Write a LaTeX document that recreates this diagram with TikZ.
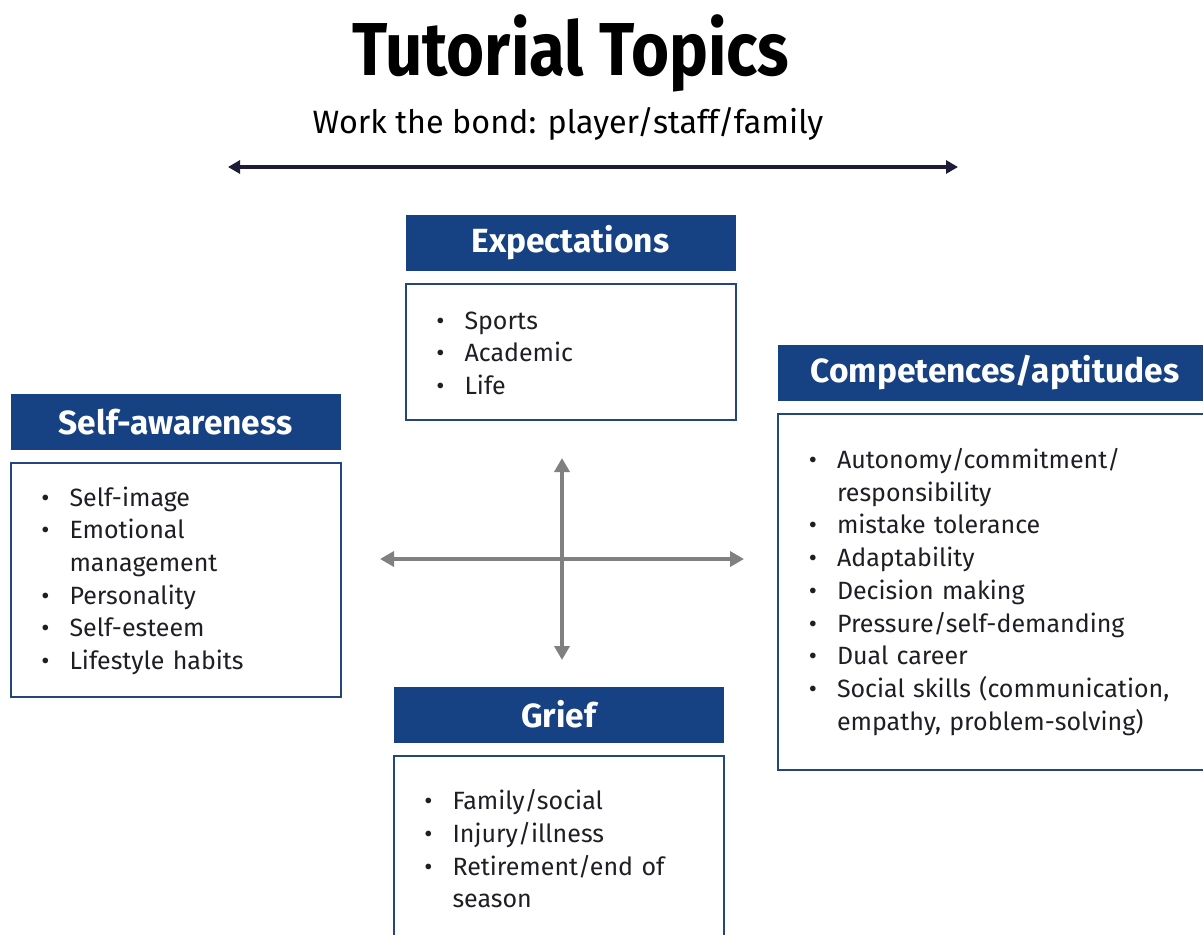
\documentclass[tikz,border=0pt]{standalone}
\usepackage{fontspec}
\setmainfont{Fira Sans}
\newfontfamily\titlefont[FakeStretch=0.87]{Fira Sans}
\usepackage{enumitem}
\usetikzlibrary{positioning, arrows.meta}
\definecolor{navy}{RGB}{22,65,130}
\definecolor{boxline}{RGB}{36,70,126}
\definecolor{inkdark}{RGB}{30,30,36}
\definecolor{crossgray}{RGB}{128,128,128}
\definecolor{bondline}{RGB}{28,28,56}
\newcommand{\toplist}[1]{\begin{itemize}[label=\textbullet, leftmargin=26pt, labelsep=20pt, nosep]#1\end{itemize}\vspace*{12pt}}
\tikzset{
	headbox/.style={fill=navy, text=white, font=\fontsize{33.5}{38}\selectfont\bfseries, minimum width=330pt, minimum height=56pt, inner sep=0pt},
	listbox/.style={draw=boxline, line width=2pt, text=inkdark, font=\fontsize{25}{32.7}\selectfont, inner xsep=33pt, inner ysep=0pt, text width=264pt, align=left},
	crossarrow/.style={crossgray, line width=3.5pt, {Triangle[length=14pt, width=15pt]}-{Triangle[length=14pt, width=15pt]}},
}

\begin{document}
\begin{tikzpicture}[x=1pt, y=-1pt]
	\useasboundingbox (0,0) rectangle (1203,935);
	\clip (0,0) rectangle (1203,935);
	% title and the bond line
	\node[anchor=base, font=\titlefont\bfseries\fontsize{75}{80}\selectfont] (title) at (571,75) {Tutorial Topics};
	\node[anchor=base, font=\fontsize{32.3}{38}\selectfont, text=black] (bond) at (568,133) {Work the bond: player/staff/family};
	\coordinate (bondL) at (228,167);
	\coordinate (bondR) at (958,167);
	\draw[bondline, line width=4pt, {Triangle[length=12pt, width=13pt]}-{Triangle[length=12pt, width=13pt]}] (bondL) -- (bondR);
	% Expectations
	\node[headbox] (exphead) at (570.5,242.5) {Expectations};
	\node[listbox, minimum height=136pt, below=12pt of exphead] (expbody) {\toplist{\item Sports \item Academic \item Life}};
	% Competences
	\node[headbox, minimum width=434pt] (comphead) at (995,372.5) {Competences/aptitudes};
	\node[listbox, text width=368pt, minimum height=356pt, below=12pt of comphead] (compbody) {\toplist{%
		\item Autonomy/commitment/\newline responsibility
		\item mistake tolerance
		\item Adaptability
		\item Decision making
		\item Pressure/self-demanding
		\item Dual career
		\item Social skills (communication,\newline empathy, problem-solving)}};
	% Self-awareness
	\node[headbox] (selfhead) at (175.5,422) {Self-awareness};
	\node[listbox, minimum height=234pt, below=12pt of selfhead] (selfbody) {\toplist{%
		\item Self-image
		\item Emotional\newline management
		\item Personality
		\item Self-esteem
		\item Lifestyle habits}};
	% Grief
	\node[headbox] (griefhead) at (558.5,714.5) {Grief};
	\node[listbox, minimum height=186pt, below=12pt of griefhead] (griefbody) {\toplist{%
		\item Family/social
		\item Injury/illness
		\item Retirement/end of\newline season}};
	% the cross
	\coordinate (crossN) at (562,458);
	\coordinate (crossS) at (562,660);
	\coordinate (crossW) at (380,559);
	\coordinate (crossE) at (744,559);
	\draw[crossarrow] (crossS) -- (crossN);
	\draw[crossarrow] (crossW) -- (crossE);
\end{tikzpicture}
\end{document}
